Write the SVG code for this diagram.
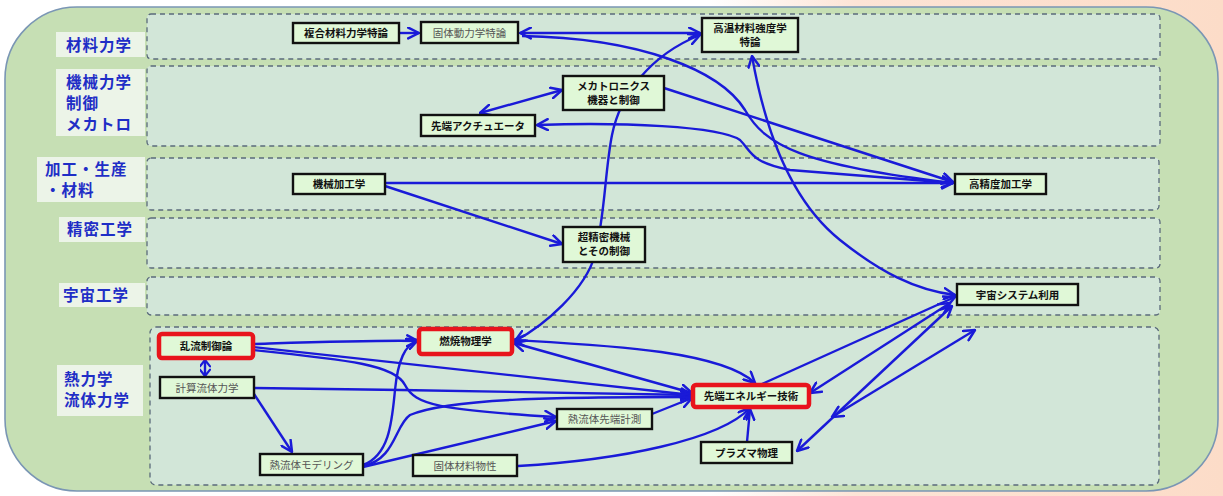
<svg xmlns="http://www.w3.org/2000/svg" width="1223" height="496" viewBox="0 0 1223 496">
<defs>
<linearGradient id="bg" x1="0" y1="0" x2="1" y2="0">
<stop offset="0" stop-color="#ffffff"/>
<stop offset="0.58" stop-color="#ffffff"/>
<stop offset="0.7" stop-color="#fde4d6"/>
<stop offset="1" stop-color="#fcdcc8"/>
</linearGradient>
<marker id="ah" viewBox="0 0 12 12" refX="11" refY="6" markerWidth="13" markerHeight="13" markerUnits="userSpaceOnUse" orient="auto-start-reverse">
<path d="M1,1 L11,6 L1,11" fill="none" stroke="#1a1ad8" stroke-width="2.3" stroke-linecap="round" stroke-linejoin="round"/>
</marker>
<marker id="ahs" viewBox="0 0 12 12" refX="11" refY="6" markerWidth="11" markerHeight="11" markerUnits="userSpaceOnUse" orient="auto-start-reverse">
<path d="M4,0.5 L11,6 L4,11.5" fill="none" stroke="#1a1ad8" stroke-width="2.4" stroke-linecap="round" stroke-linejoin="round"/>
</marker>
</defs>
<style>
.lane{fill:#d2e6d8;stroke:#5b6b7b;stroke-width:1.3;stroke-dasharray:5,4}
.lbox{fill:#ecf4e8}
.lt{font-family:"Noto Sans CJK JP","Noto Sans CJK SC",sans-serif;font-size:15.5px;letter-spacing:1px;font-weight:700;fill:#1f2ec6}
.nd{fill:#e0f8d7;stroke:#111;stroke-width:2.4}
.rd{fill:#e0f8d7;stroke:#e8141c;stroke-width:4.5}
.nt{font-family:"Noto Sans CJK JP","Noto Sans CJK SC",sans-serif;font-size:10.5px;font-weight:700;fill:#111;text-anchor:middle}
.gt{font-family:"Noto Sans CJK JP","Noto Sans CJK SC",sans-serif;font-size:10.5px;font-weight:400;fill:#555;text-anchor:middle}
#connectors path{fill:none;stroke:#1a1ad8;stroke-width:2.4}
.e{marker-end:url(#ah)}
.b{marker-start:url(#ah);marker-end:url(#ah)}
.s{marker-start:url(#ah)}
</style>
<rect width="1223" height="496" fill="url(#bg)"/>
<rect x="5" y="7" width="1213" height="484" rx="72" ry="72" fill="#c6dfb4" stroke="#7a96b4" stroke-width="1.6"/>

<g id="lanes">
<rect class="lane" x="147" y="14" width="1013" height="45" rx="4"/>
<rect class="lane" x="147" y="66" width="1013" height="80" rx="4"/>
<rect class="lane" x="147" y="158" width="1012" height="52" rx="4"/>
<rect class="lane" x="147" y="218" width="1013" height="50" rx="4"/>
<rect class="lane" x="147" y="277" width="1013" height="38" rx="4"/>
<rect class="lane" x="150" y="327" width="1009" height="158" rx="6"/>
</g>

<g id="labels">
<rect class="lbox" x="56" y="32" width="89" height="25"/>
<text class="lt" x="66" y="51">材料力学</text>
<rect class="lbox" x="56" y="69" width="89" height="67"/>
<text class="lt"><tspan x="66" y="88">機械力学</tspan><tspan x="66" y="109">制御</tspan><tspan x="66" y="130">メカトロ</tspan></text>
<rect class="lbox" x="37" y="157" width="108" height="45"/>
<text class="lt"><tspan x="45" y="175">加工・生産</tspan><tspan x="45" y="196">・材料</tspan></text>
<rect class="lbox" x="59" y="217" width="86" height="25"/>
<text class="lt" x="67" y="235">精密工学</text>
<rect class="lbox" x="59" y="283" width="86" height="24"/>
<text class="lt" x="63" y="301">宇宙工学</text>
<rect class="lbox" x="57" y="365" width="86" height="51"/>
<text class="lt"><tspan x="64" y="385">熱力学</tspan><tspan x="64" y="406">流体力学</tspan></text>
</g>

<g id="connectors">
<path class="e" d="M399,33 L419,33"/>
<path class="b" d="M520,33 L700,33"/>
<path class="e" d="M522,36 C640,38 720,70 745,110 C765,145 800,165 953,183"/>
<path class="s" d="M537,125 C620,122 720,126 740,140 C752,152 750,162 790,170 L953,183"/>
<path class="b" d="M562,90 L480,113"/>
<path class="e" d="M664,88 L953,182"/>
<path class="e" d="M385,183 L953,183"/>
<path class="e" d="M385,186 L562,244"/>
<path class="b" d="M515,341 C545,325 585,290 595,255 C605,215 605,170 612,135 C620,95 650,55 700,35"/>
<path class="b" d="M752,56 C765,130 790,200 840,240 C880,272 915,290 955,295"/>
<path d="M205,360 L205,376" style="marker-start:url(#ahs);marker-end:url(#ahs)"/>
<path class="e" d="M253,344 C320,342 380,340 418,341"/>
<path class="e" d="M253,347 L692,395"/>
<path class="e" d="M253,350 C350,360 395,365 405,385 C415,405 440,410 556,417"/>
<path class="e" d="M254,388 C400,390 550,392 692,395"/>
<path class="e" d="M254,394 L292,452"/>
<path class="e" d="M363,465 C390,455 392,420 395,390 C398,360 405,345 418,340"/>
<path class="e" d="M363,466 C395,460 395,425 410,415 C450,398 560,397 692,397"/>
<path class="e" d="M363,467 L556,421"/>
<path class="e" d="M518,466 C620,460 720,440 750,408"/>
<path class="e" d="M747,442 L750,409"/>
<path class="e" d="M652,414 L692,398"/>
<path class="b" d="M514,343 L692,393"/>
<path class="b" d="M514,340 C600,345 720,350 755,383"/>
<path class="e" d="M762,384 L955,297"/>
<path class="b" d="M950,303 L810,393"/>
<path class="b" d="M952,306 L797,451"/>
<path class="b" d="M975,330 L832,417"/>
</g>

<g id="n1"><rect class="nd" x="293" y="23" width="106" height="20"/><text class="nt" x="346" y="37">複合材料力学特論</text></g>
<g id="n2"><rect class="nd" x="421" y="22" width="97" height="21"/><text class="gt" x="469.5" y="37">固体動力学特論</text></g>
<g id="n3"><rect class="nd" x="702" y="18" width="96" height="34"/><text class="nt"><tspan x="750" y="32">高温材料強度学</tspan><tspan x="750" y="46">特論</tspan></text></g>
<g id="n4"><rect class="nd" x="563" y="76" width="101" height="34"/><text class="nt"><tspan x="613.5" y="90">メカトロニクス</tspan><tspan x="613.5" y="104">機器と制御</tspan></text></g>
<g id="n5"><rect class="nd" x="421" y="115" width="114" height="21"/><text class="nt" x="478" y="130">先端アクチュエータ</text></g>
<g id="n6"><rect class="nd" x="293" y="174" width="92" height="20"/><text class="nt" x="339" y="188">機械加工学</text></g>
<g id="n7"><rect class="nd" x="955" y="174" width="91" height="20"/><text class="nt" x="1000.5" y="188">高精度加工学</text></g>
<g id="n8"><rect class="nd" x="563" y="227" width="82" height="35"/><text class="nt"><tspan x="604" y="241">超精密機械</tspan><tspan x="604" y="255">とその制御</tspan></text></g>
<g id="n9"><rect class="nd" x="957" y="284" width="121" height="21"/><text class="nt" x="1017.5" y="299">宇宙システム利用</text></g>
<g id="n10"><rect class="rd" x="159" y="334" width="94" height="24" rx="3"/><text class="nt" x="206" y="350">乱流制御論</text></g>
<g id="n11"><rect class="nd" x="160" y="377" width="94" height="21"/><text class="gt" x="207" y="392">計算流体力学</text></g>
<g id="n12"><rect class="nd" x="260" y="454" width="103" height="21"/><text class="gt" x="311.5" y="469">熱流体モデリング</text></g>
<g id="n13"><rect class="rd" x="419" y="329" width="93" height="25" rx="3"/><text class="nt" x="465.5" y="345">燃焼物理学</text></g>
<g id="n14"><rect class="nd" x="557" y="409" width="95" height="20"/><text class="gt" x="604.5" y="423">熱流体先端計測</text></g>
<g id="n15"><rect class="nd" x="413" y="455" width="104" height="21"/><text class="gt" x="465" y="470">固体材料物性</text></g>
<g id="n16"><rect class="rd" x="693" y="385" width="116" height="22" rx="3"/><text class="nt" x="751" y="400">先端エネルギー技術</text></g>
<g id="n17"><rect class="nd" x="701" y="442" width="91" height="21"/><text class="nt" x="746.5" y="457">プラズマ物理</text></g>
</svg>
